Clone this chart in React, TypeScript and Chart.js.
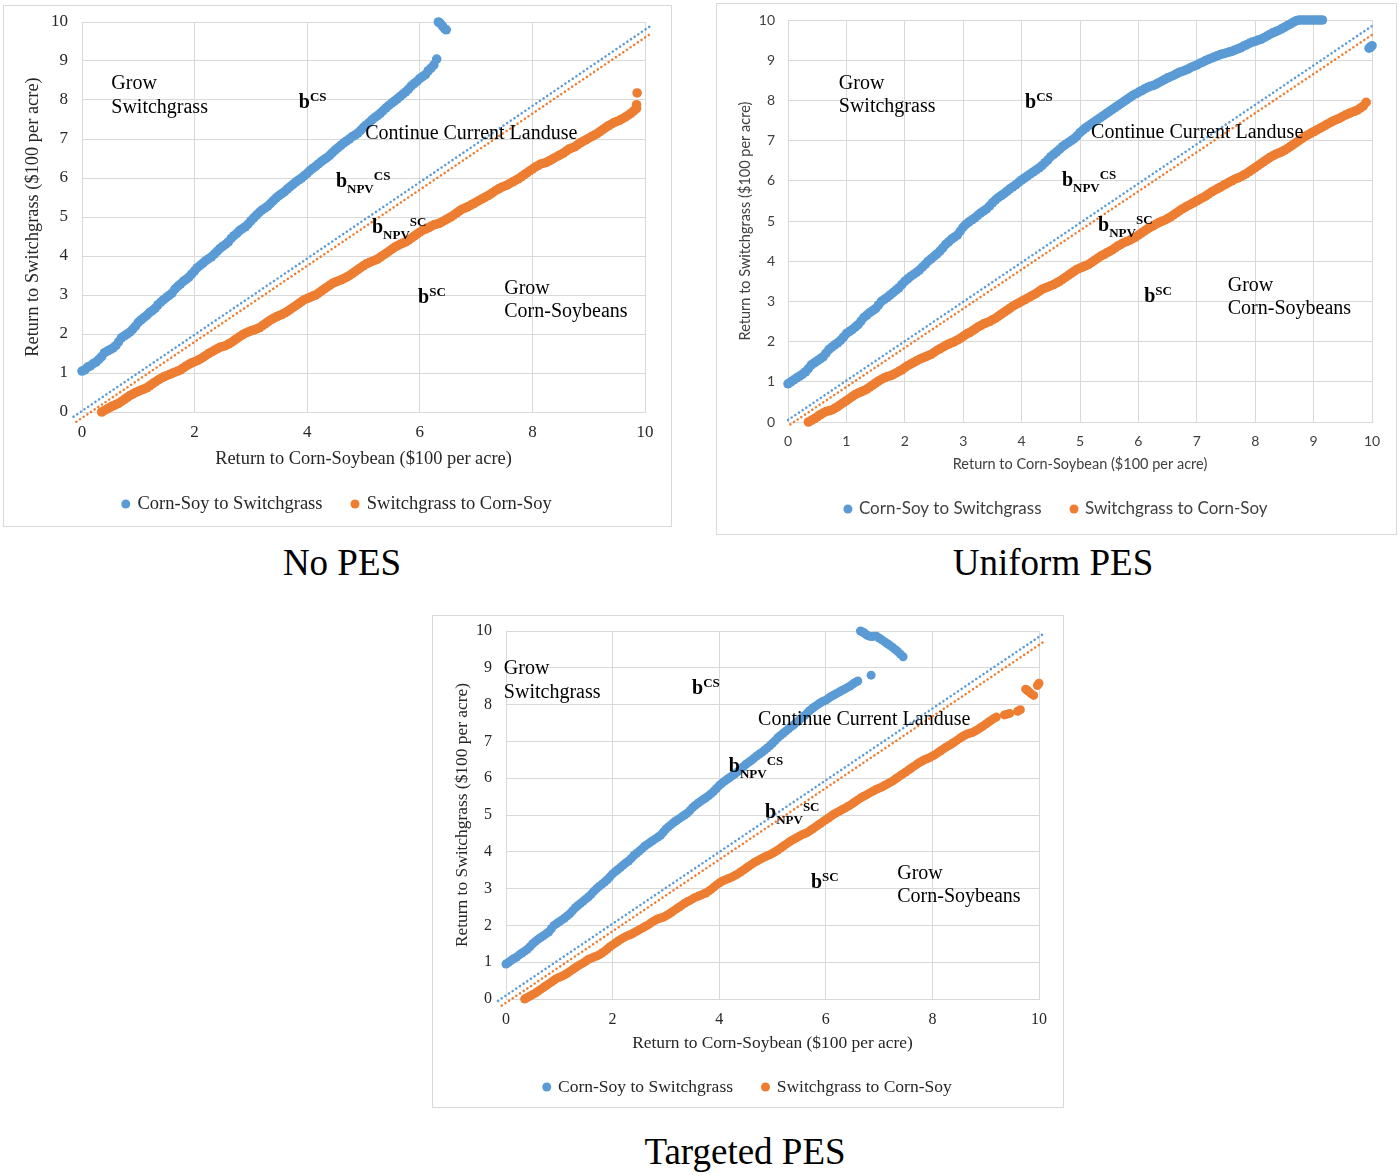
import React, { useEffect, useRef } from "react";
import { Chart, registerables } from "chart.js";

Chart.register(...registerables);

type Pt = [number, number];

// ---------------- text ----------------
const SERIES_NAMES = ["Corn-Soy to Switchgrass", "Switchgrass to Corn-Soy"];
const BOUNDARY_NAMES = ["bNPV CS", "bNPV SC"];
const X_TITLE = "Return to Corn-Soybean ($100 per acre)";
const Y_TITLE = "Return to Switchgrass ($100 per acre)";
const PANEL_TITLES = ["No PES", "Uniform PES", "Targeted PES"];

// ---------------- data: No PES ----------------
const noPesCsToSg: Pt[] = [
  [0, 1.05], [0.05, 1.08], [0.1, 1.15], [0.15, 1.18], [0.2, 1.24], [0.25, 1.28], [0.3, 1.35], [0.35, 1.42],
  [0.4, 1.52], [0.45, 1.56], [0.5, 1.6], [0.55, 1.64], [0.6, 1.7], [0.65, 1.8], [0.7, 1.9], [0.75, 1.95],
  [0.8, 2.0], [0.85, 2.05], [0.9, 2.12], [0.95, 2.2], [1.0, 2.3], [1.05, 2.36], [1.1, 2.42], [1.15, 2.48],
  [1.2, 2.55], [1.25, 2.6], [1.3, 2.66], [1.35, 2.75], [1.4, 2.82], [1.45, 2.88], [1.5, 2.94], [1.55, 2.99],
  [1.6, 3.05], [1.65, 3.15], [1.7, 3.22], [1.75, 3.28], [1.8, 3.35], [1.85, 3.4], [1.9, 3.46], [1.95, 3.54],
  [2.0, 3.62], [2.05, 3.7], [2.1, 3.76], [2.15, 3.82], [2.2, 3.88], [2.25, 3.93], [2.3, 3.98], [2.35, 4.05],
  [2.4, 4.12], [2.45, 4.19], [2.5, 4.25], [2.55, 4.3], [2.6, 4.36], [2.65, 4.45], [2.7, 4.52], [2.75, 4.58],
  [2.8, 4.65], [2.85, 4.7], [2.9, 4.75], [2.95, 4.82], [3.0, 4.9], [3.05, 4.98], [3.1, 5.05], [3.15, 5.12],
  [3.2, 5.18], [3.25, 5.23], [3.3, 5.28], [3.35, 5.35], [3.4, 5.42], [3.45, 5.49], [3.5, 5.55], [3.55, 5.6],
  [3.6, 5.65], [3.65, 5.72], [3.7, 5.78], [3.75, 5.84], [3.8, 5.9], [3.85, 5.95], [3.9, 6.0], [3.95, 6.06],
  [4.0, 6.12], [4.05, 6.19], [4.1, 6.25], [4.15, 6.3], [4.2, 6.36], [4.25, 6.42], [4.3, 6.47], [4.35, 6.52],
  [4.4, 6.58], [4.45, 6.65], [4.5, 6.72], [4.55, 6.78], [4.6, 6.84], [4.65, 6.9], [4.7, 6.95], [4.75, 7.0],
  [4.8, 7.06], [4.85, 7.1], [4.9, 7.15], [4.95, 7.22], [5.0, 7.3], [5.05, 7.36], [5.1, 7.42], [5.15, 7.49],
  [5.2, 7.55], [5.25, 7.6], [5.3, 7.66], [5.35, 7.73], [5.4, 7.8], [5.45, 7.86], [5.5, 7.92], [5.55, 7.97],
  [5.6, 8.03], [5.65, 8.09], [5.7, 8.15], [5.75, 8.21], [5.8, 8.28], [5.85, 8.36], [5.9, 8.42], [5.95, 8.48],
  [6.0, 8.55], [6.05, 8.6], [6.1, 8.65], [6.15, 8.75], [6.2, 8.82], [6.25, 8.9], [6.3, 9.05],
  [6.33, 10.0], [6.36, 9.97], [6.4, 9.9], [6.44, 9.83], [6.47, 9.8],
];
const noPesSgToCs: Pt[] = [
  [0.35, 0], [0.4, 0.04], [0.45, 0.08], [0.5, 0.12], [0.55, 0.16], [0.6, 0.19], [0.65, 0.22], [0.7, 0.27],
  [0.75, 0.32], [0.8, 0.37], [0.85, 0.42], [0.9, 0.46], [0.95, 0.5], [1.0, 0.53], [1.05, 0.56], [1.1, 0.59],
  [1.15, 0.62], [1.2, 0.67], [1.25, 0.72], [1.3, 0.77], [1.35, 0.82], [1.4, 0.86], [1.45, 0.9], [1.5, 0.93],
  [1.55, 0.96], [1.6, 0.99], [1.65, 1.02], [1.7, 1.05], [1.75, 1.08], [1.8, 1.13], [1.85, 1.18], [1.9, 1.22],
  [1.95, 1.26], [2.0, 1.29], [2.05, 1.32], [2.1, 1.36], [2.15, 1.4], [2.2, 1.45], [2.25, 1.5], [2.3, 1.54],
  [2.35, 1.58], [2.4, 1.62], [2.45, 1.66], [2.5, 1.68], [2.55, 1.7], [2.6, 1.74], [2.65, 1.78], [2.7, 1.83],
  [2.75, 1.88], [2.8, 1.93], [2.85, 1.98], [2.9, 2.02], [2.95, 2.05], [3.0, 2.08], [3.05, 2.1], [3.1, 2.13],
  [3.15, 2.16], [3.2, 2.21], [3.25, 2.26], [3.3, 2.31], [3.35, 2.36], [3.4, 2.4], [3.45, 2.44], [3.5, 2.47],
  [3.55, 2.5], [3.6, 2.54], [3.65, 2.58], [3.7, 2.63], [3.75, 2.68], [3.8, 2.73], [3.85, 2.78], [3.9, 2.83],
  [3.95, 2.88], [4.0, 2.91], [4.05, 2.94], [4.1, 2.97], [4.15, 3.0], [4.2, 3.05], [4.25, 3.1], [4.3, 3.15],
  [4.35, 3.2], [4.4, 3.25], [4.45, 3.3], [4.5, 3.33], [4.55, 3.36], [4.6, 3.39], [4.65, 3.42], [4.7, 3.46],
  [4.75, 3.5], [4.8, 3.55], [4.85, 3.6], [4.9, 3.65], [4.95, 3.7], [5.0, 3.75], [5.05, 3.8], [5.1, 3.83],
  [5.15, 3.86], [5.2, 3.89], [5.25, 3.92], [5.3, 3.97], [5.35, 4.02], [5.4, 4.07], [5.45, 4.12], [5.5, 4.17],
  [5.55, 4.22], [5.6, 4.26], [5.65, 4.3], [5.7, 4.33], [5.75, 4.36], [5.8, 4.41], [5.85, 4.46], [5.9, 4.51],
  [5.95, 4.56], [6.0, 4.61], [6.05, 4.66], [6.1, 4.69], [6.15, 4.72], [6.2, 4.76], [6.25, 4.8], [6.3, 4.82],
  [6.35, 4.84], [6.4, 4.88], [6.45, 4.92], [6.5, 4.96], [6.55, 5.0], [6.6, 5.05], [6.65, 5.1], [6.7, 5.15],
  [6.75, 5.2], [6.8, 5.23], [6.85, 5.26], [6.9, 5.3], [6.95, 5.34], [7.0, 5.38], [7.05, 5.42], [7.1, 5.46],
  [7.15, 5.5], [7.2, 5.54], [7.25, 5.58], [7.3, 5.63], [7.35, 5.68], [7.4, 5.72], [7.45, 5.76], [7.5, 5.79],
  [7.55, 5.82], [7.6, 5.86], [7.65, 5.9], [7.7, 5.94], [7.75, 5.98], [7.8, 6.03], [7.85, 6.08], [7.9, 6.13],
  [7.95, 6.18], [8.0, 6.23], [8.05, 6.28], [8.1, 6.32], [8.15, 6.36], [8.2, 6.38], [8.25, 6.4], [8.3, 6.44],
  [8.35, 6.48], [8.4, 6.52], [8.45, 6.56], [8.5, 6.6], [8.55, 6.64], [8.6, 6.69], [8.65, 6.74], [8.7, 6.77],
  [8.75, 6.8], [8.8, 6.85], [8.85, 6.9], [8.9, 6.94], [8.95, 6.98], [9.0, 7.02], [9.05, 7.06], [9.1, 7.1],
  [9.15, 7.14], [9.2, 7.19], [9.25, 7.24], [9.3, 7.29], [9.35, 7.34], [9.4, 7.38], [9.45, 7.42], [9.5, 7.45],
  [9.55, 7.48], [9.6, 7.52], [9.65, 7.56], [9.7, 7.61], [9.75, 7.66], [9.8, 7.72], [9.85, 7.78],
  [9.85, 7.88], [9.86, 8.18],
];
const noPesNpvCs: Pt[] = [[-0.15, -0.12], [10.1, 9.9]];
const noPesNpvSc: Pt[] = [[-0.1, -0.25], [10.1, 9.7]];

// ---------------- data: Uniform PES ----------------
const uniformCsToSg: Pt[] = [
  [0, 0.95], [0.05, 1.0], [0.1, 1.05], [0.15, 1.1], [0.2, 1.14], [0.25, 1.19], [0.3, 1.25], [0.35, 1.33],
  [0.4, 1.42], [0.45, 1.47], [0.5, 1.52], [0.55, 1.57], [0.6, 1.62], [0.65, 1.71], [0.7, 1.8], [0.75, 1.86],
  [0.8, 1.92], [0.85, 1.97], [0.9, 2.03], [0.95, 2.11], [1.0, 2.2], [1.05, 2.25], [1.1, 2.3], [1.15, 2.36],
  [1.2, 2.42], [1.25, 2.51], [1.3, 2.6], [1.35, 2.66], [1.4, 2.72], [1.45, 2.77], [1.5, 2.82], [1.55, 2.91],
  [1.6, 3.0], [1.65, 3.05], [1.7, 3.1], [1.75, 3.16], [1.8, 3.22], [1.85, 3.28], [1.9, 3.34], [1.95, 3.42],
  [2.0, 3.5], [2.05, 3.56], [2.1, 3.62], [2.15, 3.67], [2.2, 3.72], [2.25, 3.78], [2.3, 3.85], [2.35, 3.92],
  [2.4, 4.0], [2.45, 4.06], [2.5, 4.12], [2.55, 4.18], [2.6, 4.25], [2.65, 4.33], [2.7, 4.42], [2.75, 4.48],
  [2.8, 4.55], [2.85, 4.6], [2.9, 4.65], [2.95, 4.75], [3.0, 4.85], [3.05, 4.92], [3.1, 4.98], [3.15, 5.03],
  [3.2, 5.08], [3.25, 5.14], [3.3, 5.2], [3.35, 5.25], [3.4, 5.3], [3.45, 5.37], [3.5, 5.45], [3.55, 5.52],
  [3.6, 5.58], [3.65, 5.63], [3.7, 5.68], [3.75, 5.74], [3.8, 5.8], [3.85, 5.85], [3.9, 5.9], [3.95, 5.96],
  [4.0, 6.02], [4.05, 6.07], [4.1, 6.12], [4.15, 6.17], [4.2, 6.22], [4.25, 6.27], [4.3, 6.32], [4.35, 6.38],
  [4.4, 6.45], [4.45, 6.52], [4.5, 6.6], [4.55, 6.66], [4.6, 6.72], [4.65, 6.78], [4.7, 6.85], [4.75, 6.9],
  [4.8, 6.95], [4.85, 7.0], [4.9, 7.05], [4.95, 7.12], [5.0, 7.2], [5.05, 7.26], [5.1, 7.32], [5.15, 7.37],
  [5.2, 7.42], [5.25, 7.47], [5.3, 7.52], [5.35, 7.57], [5.4, 7.62], [5.45, 7.67], [5.5, 7.72], [5.55, 7.77],
  [5.6, 7.82], [5.65, 7.87], [5.7, 7.92], [5.75, 7.97], [5.8, 8.02], [5.85, 8.07], [5.9, 8.12], [5.95, 8.16],
  [6.0, 8.2], [6.05, 8.24], [6.1, 8.28], [6.15, 8.32], [6.2, 8.35], [6.25, 8.37], [6.3, 8.4], [6.35, 8.44],
  [6.4, 8.48], [6.45, 8.52], [6.5, 8.56], [6.55, 8.59], [6.6, 8.62], [6.65, 8.66], [6.7, 8.7], [6.75, 8.72],
  [6.8, 8.75], [6.85, 8.78], [6.9, 8.82], [6.95, 8.85], [7.0, 8.88], [7.05, 8.92], [7.1, 8.95], [7.15, 8.99],
  [7.2, 9.02], [7.25, 9.05], [7.3, 9.08], [7.35, 9.11], [7.4, 9.14], [7.45, 9.16], [7.5, 9.18], [7.55, 9.2],
  [7.6, 9.22], [7.65, 9.25], [7.7, 9.28], [7.75, 9.31], [7.8, 9.35], [7.85, 9.38], [7.9, 9.42], [7.95, 9.45],
  [8.0, 9.47], [8.05, 9.5], [8.1, 9.52], [8.15, 9.56], [8.2, 9.6], [8.25, 9.64], [8.3, 9.68], [8.35, 9.71],
  [8.4, 9.74], [8.45, 9.78], [8.5, 9.82], [8.55, 9.86], [8.6, 9.9], [8.65, 9.94], [8.7, 9.98], [8.75, 10.0],
  [8.8, 10.0], [8.85, 10.0], [8.9, 10.0], [8.95, 10.0], [9.0, 10.0], [9.05, 10.0], [9.1, 10.0], [9.15, 10.0],
  [9.95, 9.3], [9.98, 9.33], [10.0, 9.36],
];
const uniformSgToCs: Pt[] = [
  [0.35, 0], [0.4, 0.04], [0.45, 0.08], [0.5, 0.13], [0.55, 0.18], [0.6, 0.22], [0.65, 0.26], [0.7, 0.28],
  [0.75, 0.3], [0.8, 0.34], [0.85, 0.38], [0.9, 0.43], [0.95, 0.48], [1.0, 0.53], [1.05, 0.58], [1.1, 0.63],
  [1.15, 0.68], [1.2, 0.72], [1.25, 0.75], [1.3, 0.78], [1.35, 0.82], [1.4, 0.87], [1.45, 0.92], [1.5, 0.97],
  [1.55, 1.02], [1.6, 1.06], [1.65, 1.1], [1.7, 1.13], [1.75, 1.15], [1.8, 1.18], [1.85, 1.22], [1.9, 1.26],
  [1.95, 1.3], [2.0, 1.35], [2.05, 1.4], [2.1, 1.44], [2.15, 1.48], [2.2, 1.52], [2.25, 1.56], [2.3, 1.59],
  [2.35, 1.62], [2.4, 1.65], [2.45, 1.68], [2.5, 1.73], [2.55, 1.78], [2.6, 1.82], [2.65, 1.86], [2.7, 1.9],
  [2.75, 1.94], [2.8, 1.97], [2.85, 2.0], [2.9, 2.04], [2.95, 2.08], [3.0, 2.13], [3.05, 2.18], [3.1, 2.22],
  [3.15, 2.26], [3.2, 2.31], [3.25, 2.36], [3.3, 2.4], [3.35, 2.44], [3.4, 2.47], [3.45, 2.5], [3.5, 2.54],
  [3.55, 2.58], [3.6, 2.63], [3.65, 2.68], [3.7, 2.73], [3.75, 2.78], [3.8, 2.83], [3.85, 2.88], [3.9, 2.92],
  [3.95, 2.96], [4.0, 3.0], [4.05, 3.04], [4.1, 3.08], [4.15, 3.12], [4.2, 3.16], [4.25, 3.2], [4.3, 3.25],
  [4.35, 3.3], [4.4, 3.33], [4.45, 3.36], [4.5, 3.39], [4.55, 3.42], [4.6, 3.46], [4.65, 3.5], [4.7, 3.55],
  [4.75, 3.6], [4.8, 3.65], [4.85, 3.7], [4.9, 3.75], [4.95, 3.8], [5.0, 3.83], [5.05, 3.86], [5.1, 3.89],
  [5.15, 3.92], [5.2, 3.97], [5.25, 4.02], [5.3, 4.07], [5.35, 4.12], [5.4, 4.16], [5.45, 4.2], [5.5, 4.24],
  [5.55, 4.28], [5.6, 4.33], [5.65, 4.38], [5.7, 4.42], [5.75, 4.46], [5.8, 4.49], [5.85, 4.52], [5.9, 4.56],
  [5.95, 4.6], [6.0, 4.65], [6.05, 4.7], [6.1, 4.75], [6.15, 4.8], [6.2, 4.84], [6.25, 4.88], [6.3, 4.92],
  [6.35, 4.96], [6.4, 4.99], [6.45, 5.02], [6.5, 5.06], [6.55, 5.1], [6.6, 5.15], [6.65, 5.2], [6.7, 5.25],
  [6.75, 5.3], [6.8, 5.34], [6.85, 5.38], [6.9, 5.42], [6.95, 5.46], [7.0, 5.5], [7.05, 5.54], [7.1, 5.58],
  [7.15, 5.62], [7.2, 5.67], [7.25, 5.72], [7.3, 5.76], [7.35, 5.8], [7.4, 5.84], [7.45, 5.88], [7.5, 5.92],
  [7.55, 5.96], [7.6, 6.0], [7.65, 6.04], [7.7, 6.07], [7.75, 6.1], [7.8, 6.14], [7.85, 6.18], [7.9, 6.23],
  [7.95, 6.28], [8.0, 6.33], [8.05, 6.38], [8.1, 6.43], [8.15, 6.48], [8.2, 6.53], [8.25, 6.58], [8.3, 6.62],
  [8.35, 6.66], [8.4, 6.69], [8.45, 6.72], [8.5, 6.76], [8.55, 6.8], [8.6, 6.85], [8.65, 6.9], [8.7, 6.95],
  [8.75, 7.0], [8.8, 7.05], [8.85, 7.1], [8.9, 7.14], [8.95, 7.18], [9.0, 7.22], [9.05, 7.26], [9.1, 7.3],
  [9.15, 7.34], [9.2, 7.38], [9.25, 7.42], [9.3, 7.46], [9.35, 7.5], [9.4, 7.53], [9.45, 7.56], [9.5, 7.6],
  [9.55, 7.64], [9.6, 7.67], [9.65, 7.7], [9.7, 7.73], [9.75, 7.76], [9.8, 7.81], [9.85, 7.86], [9.9, 7.95],
];
const uniformNpvCs: Pt[] = [[0, 0.05], [10.05, 9.9]];
const uniformNpvSc: Pt[] = [[0.04, -0.06], [10.05, 9.68]];

// ---------------- data: Targeted PES ----------------
const targetedCsToSg: Pt[] = [
  [0, 0.95], [0.05, 1.0], [0.1, 1.05], [0.15, 1.1], [0.2, 1.14], [0.25, 1.2], [0.3, 1.25], [0.35, 1.3],
  [0.4, 1.35], [0.45, 1.42], [0.5, 1.5], [0.55, 1.56], [0.6, 1.62], [0.65, 1.67], [0.7, 1.72], [0.75, 1.77],
  [0.8, 1.82], [0.85, 1.91], [0.9, 2.0], [0.95, 2.05], [1.0, 2.1], [1.05, 2.15], [1.1, 2.2], [1.15, 2.26],
  [1.2, 2.32], [1.25, 2.4], [1.3, 2.48], [1.35, 2.54], [1.4, 2.6], [1.45, 2.66], [1.5, 2.72], [1.55, 2.78],
  [1.6, 2.85], [1.65, 2.93], [1.7, 3.0], [1.75, 3.06], [1.8, 3.12], [1.85, 3.18], [1.9, 3.24], [1.95, 3.32],
  [2.0, 3.4], [2.05, 3.46], [2.1, 3.52], [2.15, 3.58], [2.2, 3.64], [2.25, 3.7], [2.3, 3.75], [2.35, 3.82],
  [2.4, 3.9], [2.45, 3.96], [2.5, 4.02], [2.55, 4.08], [2.6, 4.15], [2.65, 4.2], [2.7, 4.25], [2.75, 4.3],
  [2.8, 4.35], [2.85, 4.4], [2.9, 4.45], [2.95, 4.53], [3.0, 4.62], [3.05, 4.68], [3.1, 4.74], [3.15, 4.8],
  [3.2, 4.85], [3.25, 4.9], [3.3, 4.95], [3.35, 5.0], [3.4, 5.05], [3.45, 5.12], [3.5, 5.2], [3.55, 5.26],
  [3.6, 5.32], [3.65, 5.37], [3.7, 5.42], [3.75, 5.47], [3.8, 5.52], [3.85, 5.58], [3.9, 5.65], [3.95, 5.72],
  [4.0, 5.8], [4.05, 5.86], [4.1, 5.92], [4.15, 5.97], [4.2, 6.02], [4.25, 6.07], [4.3, 6.12], [4.35, 6.18],
  [4.4, 6.24], [4.45, 6.31], [4.5, 6.38], [4.55, 6.43], [4.6, 6.48], [4.65, 6.54], [4.7, 6.6], [4.75, 6.65],
  [4.8, 6.7], [4.85, 6.76], [4.9, 6.82], [4.95, 6.88], [5.0, 6.95], [5.05, 7.02], [5.1, 7.1], [5.15, 7.16],
  [5.2, 7.22], [5.25, 7.28], [5.3, 7.34], [5.35, 7.4], [5.4, 7.45], [5.45, 7.52], [5.5, 7.58], [5.55, 7.64],
  [5.6, 7.7], [5.65, 7.77], [5.7, 7.84], [5.75, 7.9], [5.8, 7.95], [5.85, 8.0], [5.9, 8.05], [5.95, 8.09],
  [6.0, 8.12], [6.05, 8.17], [6.1, 8.22], [6.15, 8.26], [6.2, 8.3], [6.25, 8.34], [6.3, 8.38], [6.35, 8.42],
  [6.4, 8.46], [6.45, 8.5], [6.5, 8.55], [6.55, 8.6], [6.6, 8.64], [6.85, 8.8],
  [6.65, 10.0], [6.69, 9.97], [6.72, 9.95], [6.75, 9.91], [6.78, 9.88], [6.82, 9.86], [6.86, 9.85],
  [6.9, 9.86], [6.95, 9.86], [7.0, 9.81], [7.05, 9.76], [7.1, 9.71], [7.15, 9.66], [7.2, 9.61], [7.25, 9.56],
  [7.3, 9.5], [7.35, 9.44], [7.4, 9.37], [7.45, 9.3],
];
const targetedSgToCs: Pt[] = [
  [0.35, 0], [0.4, 0.04], [0.45, 0.08], [0.5, 0.12], [0.55, 0.16], [0.6, 0.21], [0.65, 0.26], [0.7, 0.31],
  [0.75, 0.36], [0.8, 0.41], [0.85, 0.46], [0.9, 0.51], [0.95, 0.56], [1.0, 0.59], [1.05, 0.62], [1.1, 0.66],
  [1.15, 0.7], [1.2, 0.75], [1.25, 0.8], [1.3, 0.85], [1.35, 0.9], [1.4, 0.94], [1.45, 0.98], [1.5, 1.03],
  [1.55, 1.08], [1.6, 1.11], [1.65, 1.14], [1.7, 1.17], [1.75, 1.2], [1.8, 1.25], [1.85, 1.3], [1.9, 1.36],
  [1.95, 1.42], [2.0, 1.47], [2.05, 1.52], [2.1, 1.57], [2.15, 1.62], [2.2, 1.66], [2.25, 1.7], [2.3, 1.73],
  [2.35, 1.76], [2.4, 1.8], [2.45, 1.84], [2.5, 1.88], [2.55, 1.92], [2.6, 1.96], [2.65, 2.0], [2.7, 2.05],
  [2.75, 2.1], [2.8, 2.14], [2.85, 2.18], [2.9, 2.2], [2.95, 2.22], [3.0, 2.26], [3.05, 2.3], [3.1, 2.35],
  [3.15, 2.4], [3.2, 2.45], [3.25, 2.5], [3.3, 2.55], [3.35, 2.6], [3.4, 2.64], [3.45, 2.68], [3.5, 2.72],
  [3.55, 2.76], [3.6, 2.79], [3.65, 2.82], [3.7, 2.85], [3.75, 2.88], [3.8, 2.93], [3.85, 2.98], [3.9, 3.04],
  [3.95, 3.1], [4.0, 3.15], [4.05, 3.2], [4.1, 3.23], [4.15, 3.26], [4.2, 3.29], [4.25, 3.32], [4.3, 3.36],
  [4.35, 3.4], [4.4, 3.45], [4.45, 3.5], [4.5, 3.55], [4.55, 3.6], [4.6, 3.65], [4.65, 3.7], [4.7, 3.74],
  [4.75, 3.78], [4.8, 3.82], [4.85, 3.86], [4.9, 3.89], [4.95, 3.92], [5.0, 3.96], [5.05, 4.0], [5.1, 4.05],
  [5.15, 4.1], [5.2, 4.15], [5.25, 4.2], [5.3, 4.25], [5.35, 4.3], [5.4, 4.34], [5.45, 4.38], [5.5, 4.42],
  [5.55, 4.46], [5.6, 4.49], [5.65, 4.52], [5.7, 4.57], [5.75, 4.62], [5.8, 4.67], [5.85, 4.72], [5.9, 4.77],
  [5.95, 4.82], [6.0, 4.87], [6.05, 4.92], [6.1, 4.97], [6.15, 5.02], [6.2, 5.06], [6.25, 5.1], [6.3, 5.14],
  [6.35, 5.18], [6.4, 5.22], [6.45, 5.26], [6.5, 5.31], [6.55, 5.36], [6.6, 5.41], [6.65, 5.46], [6.7, 5.5],
  [6.75, 5.54], [6.8, 5.58], [6.85, 5.62], [6.9, 5.66], [6.95, 5.7], [7.0, 5.73], [7.05, 5.76], [7.1, 5.8],
  [7.15, 5.84], [7.2, 5.88], [7.25, 5.92], [7.3, 5.97], [7.35, 6.02], [7.4, 6.07], [7.45, 6.12], [7.5, 6.17],
  [7.55, 6.22], [7.6, 6.27], [7.65, 6.32], [7.7, 6.37], [7.75, 6.42], [7.8, 6.46], [7.85, 6.5], [7.9, 6.53],
  [7.95, 6.56], [8.0, 6.6], [8.05, 6.64], [8.1, 6.69], [8.15, 6.74], [8.2, 6.79], [8.25, 6.84], [8.3, 6.88],
  [8.35, 6.92], [8.4, 6.97], [8.45, 7.02], [8.5, 7.07], [8.55, 7.12], [8.6, 7.16], [8.65, 7.2], [8.7, 7.22],
  [8.75, 7.24], [8.8, 7.28], [8.85, 7.32], [8.9, 7.37], [8.95, 7.42], [9.0, 7.47], [9.05, 7.52], [9.1, 7.57],
  [9.15, 7.62], [9.2, 7.66], [9.35, 7.72], [9.4, 7.74], [9.45, 7.76], [9.6, 7.82], [9.65, 7.86],
  [9.75, 8.42], [9.78, 8.39], [9.8, 8.36], [9.85, 8.3], [9.9, 8.25], [9.97, 8.52], [10.0, 8.58],
];
const targetedNpvCs: Pt[] = [[-0.15, -0.05], [10.08, 9.92]];
const targetedNpvSc: Pt[] = [[-0.08, -0.18], [10.08, 9.7]];

// ---------------- region labels (data coordinates) ----------------
type Label = { text: string; sub?: string; sup?: string; x: number; y: number };

const noPesLabels: Label[] = [
  { text: "Grow", x: 0.52, y: 8.41 },
  { text: "Switchgrass", x: 0.52, y: 7.79 },
  { text: "b", sup: "CS", x: 3.85, y: 7.97 },
  { text: "Continue Current Landuse", x: 5.03, y: 7.13 },
  { text: "b", sub: "NPV", sup: "CS", x: 4.51, y: 5.95 },
  { text: "b", sub: "NPV", sup: "SC", x: 5.15, y: 4.77 },
  { text: "b", sup: "SC", x: 5.97, y: 2.97 },
  { text: "Grow", x: 7.5, y: 3.15 },
  { text: "Corn-Soybeans", x: 7.5, y: 2.56 },
];
const uniformLabels: Label[] = [
  { text: "Grow", x: 0.87, y: 8.41 },
  { text: "Switchgrass", x: 0.87, y: 7.84 },
  { text: "b", sup: "CS", x: 4.06, y: 7.99 },
  { text: "Continue Current Landuse", x: 5.19, y: 7.19 },
  { text: "b", sub: "NPV", sup: "CS", x: 4.69, y: 6.04 },
  { text: "b", sub: "NPV", sup: "SC", x: 5.31, y: 4.93 },
  { text: "b", sup: "SC", x: 6.1, y: 3.16 },
  { text: "Grow", x: 7.53, y: 3.38 },
  { text: "Corn-Soybeans", x: 7.53, y: 2.81 },
];
const targetedLabels: Label[] = [
  { text: "Grow", x: -0.04, y: 8.97 },
  { text: "Switchgrass", x: -0.04, y: 8.32 },
  { text: "b", sup: "CS", x: 3.49, y: 8.48 },
  { text: "Continue Current Landuse", x: 4.73, y: 7.58 },
  { text: "b", sub: "NPV", sup: "CS", x: 4.18, y: 6.36 },
  { text: "b", sub: "NPV", sup: "SC", x: 4.86, y: 5.11 },
  { text: "b", sup: "SC", x: 5.72, y: 3.21 },
  { text: "Grow", x: 7.34, y: 3.4 },
  { text: "Corn-Soybeans", x: 7.34, y: 2.77 },
];

// ---------------- styling ----------------
const BLUE = "#5B9BD5";
const ORANGE = "#ED7D31";
const GRID = "#d9d9d9";
const SERIF = '"Liberation Serif", "Times New Roman", serif';
const SANS = 'Lato, "Liberation Sans", sans-serif';

type PanelSpec = {
  left: number; top: number; width: number; height: number;
  series: [Pt[], Pt[]]; npv: [Pt[], Pt[]]; labels: Label[];
  xStep: number; family: string; textColor: string;
  tickSize: number; titleSize: number; legendSize: number;
  plotLeft: number; plotTop: number; plotRightPad: number; plotBottom: number;
  legendCenterY: number; xTitleY: number; yTitleX: number; xTickY: number; yTickPad: number;
  pointRadius: number;
};

const panels: PanelSpec[] = [
  {
    left: 3, top: 5, width: 669, height: 522,
    series: [noPesCsToSg, noPesSgToCs], npv: [noPesNpvCs, noPesNpvSc], labels: noPesLabels,
    xStep: 2, family: SERIF, textColor: "#262626",
    tickSize: 17, titleSize: 18.4, legendSize: 18.5,
    plotLeft: 78, plotTop: 16, plotRightPad: 26, plotBottom: 406,
    legendCenterY: 498, xTitleY: 453, yTitleX: 29, xTickY: 427, yTickPad: 14,
    pointRadius: 4.8,
  },
  {
    left: 716, top: 3, width: 681, height: 532,
    series: [uniformCsToSg, uniformSgToCs], npv: [uniformNpvCs, uniformNpvSc], labels: uniformLabels,
    xStep: 1, family: SANS, textColor: "#404040",
    tickSize: 14, titleSize: 14.5, legendSize: 17,
    plotLeft: 71, plotTop: 16, plotRightPad: 24, plotBottom: 418,
    legendCenterY: 505, xTitleY: 460, yTitleX: 28, xTickY: 437, yTickPad: 13,
    pointRadius: 4.8,
  },
  {
    left: 432, top: 615, width: 632, height: 493,
    series: [targetedCsToSg, targetedSgToCs], npv: [targetedNpvCs, targetedNpvSc], labels: targetedLabels,
    xStep: 2, family: SERIF, textColor: "#262626",
    tickSize: 16, titleSize: 17.4, legendSize: 17.5,
    plotLeft: 73, plotTop: 15, plotRightPad: 24, plotBottom: 383,
    legendCenterY: 471, xTitleY: 427, yTitleX: 29, xTickY: 404, yTickPad: 14,
    pointRadius: 4.5,
  },
];

const panelTitlePos = [
  { cx: 342, cy: 563 },
  { cx: 1053, cy: 563 },
  { cx: 745, cy: 1152 },
];

const LEGEND_ITEM_PAD = 30;

const legendFullWidth = {
  id: "legendFullWidth",
  afterLayout(chart: any) {
    const lg = chart.legend;
    if (lg) {
      lg.left = 0;
      lg.right = chart.width;
      lg.width = chart.width;
    }
  },
};

function makeLabelPlugin(labels: Label[]) {
  return {
    id: "regionLabels",
    afterDatasetsDraw(chart: any) {
      const { ctx } = chart;
      const xs = chart.scales.x;
      const ys = chart.scales.y;
      ctx.save();
      ctx.fillStyle = "#000";
      ctx.textAlign = "left";
      for (const l of labels) {
        const px = xs.getPixelForValue(l.x);
        const py = ys.getPixelForValue(l.y);
        if (!l.sub && !l.sup) {
          ctx.textBaseline = "middle";
          ctx.font = `20px ${SERIF}`;
          ctx.fillText(l.text, px, py);
          continue;
        }
        ctx.textBaseline = "alphabetic";
        ctx.font = `bold 20px ${SERIF}`;
        const base = py + 6.7;
        ctx.fillText(l.text, px, base);
        let cx = px + ctx.measureText(l.text).width;
        ctx.font = `bold 13px ${SERIF}`;
        if (l.sub) {
          ctx.fillText(l.sub, cx, base + 6);
          cx += ctx.measureText(l.sub).width;
        }
        if (l.sup) ctx.fillText(l.sup, cx, base - 7);
      }
      ctx.restore();
    },
  };
}

function Panel({ spec }: { spec: PanelSpec }) {
  const ref = useRef<HTMLCanvasElement>(null);
  const W = spec.width - 2;
  const H = spec.height - 2;

  useEffect(() => {
    if (!ref.current) return;
    const legendPad = H - spec.legendCenterY - 10 - spec.legendSize / 2;
    const legendTop = H - legendPad - spec.legendSize - LEGEND_ITEM_PAD - 10;
    const xAxisH = legendTop - spec.plotBottom;
    const titleLH = spec.titleSize * 1.2;
    const xTitlePadBottom = legendTop - spec.xTitleY - titleLH / 2;
    const yTitlePadTop = spec.yTitleX - titleLH / 2;
    const xTickPad = spec.xTickY - spec.plotBottom - (spec.tickSize * 1.2) / 2;
    const toXY = (arr: Pt[]) => arr.map(([x, y]) => ({ x, y }));
    const colors = [BLUE, ORANGE];

    const pointSets = spec.series.map((s, i) => ({
      label: SERIES_NAMES[i],
      data: toXY(s),
      backgroundColor: colors[i],
      borderColor: colors[i],
      borderWidth: 0,
      pointRadius: spec.pointRadius,
      pointHoverRadius: spec.pointRadius,
      pointBorderWidth: 0,
      pointStyle: "circle",
      clip: false,
    }));
    const lineSets = spec.npv.map((s, i) => ({
      label: BOUNDARY_NAMES[i],
      data: toXY(s),
      showLine: true,
      borderColor: colors[i],
      backgroundColor: colors[i],
      borderWidth: 2.5,
      borderDash: [0.1, 4.3],
      borderCapStyle: "round",
      pointRadius: 0,
      fill: false,
      clip: false,
    }));

    const tickFont = { family: spec.family, size: spec.tickSize };
    const titleFont = { family: spec.family, size: spec.titleSize, lineHeight: 1.2 };

    const chart = new Chart(ref.current, {
      type: "scatter",
      data: { datasets: [...pointSets, ...lineSets] as any },
      options: {
        responsive: false,
        animation: false,
        events: [],
        layout: { padding: { top: spec.plotTop, right: spec.plotRightPad, bottom: legendPad, left: 0 } },
        scales: {
          x: {
            type: "linear",
            min: 0,
            max: 10,
            ticks: { stepSize: spec.xStep, padding: xTickPad, color: spec.textColor, font: tickFont, maxRotation: 0, autoSkip: false },
            grid: { color: GRID, lineWidth: 1, drawTicks: false },
            border: { color: GRID },
            title: { display: true, text: X_TITLE, color: spec.textColor, font: titleFont, padding: { top: 0, bottom: xTitlePadBottom } },
            afterFit: (s: any) => {
              s.height = xAxisH;
              s.paddingLeft = 0;
              s.paddingRight = 0;
            },
          },
          y: {
            type: "linear",
            min: 0,
            max: 10,
            ticks: { stepSize: 1, padding: spec.yTickPad, color: spec.textColor, font: tickFont },
            grid: { color: GRID, lineWidth: 1, drawTicks: false },
            border: { color: GRID },
            title: { display: true, text: Y_TITLE, color: spec.textColor, font: titleFont, padding: { top: yTitlePadTop, bottom: 0 } },
            afterFit: (s: any) => {
              s.width = spec.plotLeft;
              s.paddingTop = 0;
              s.paddingBottom = 0;
            },
          },
        },
        plugins: {
          legend: {
            position: "bottom",
            labels: {
              usePointStyle: true,
              pointStyle: "circle",
              boxWidth: 5,
              boxHeight: 6.4,
              padding: LEGEND_ITEM_PAD,
              color: spec.textColor,
              font: { family: spec.family, size: spec.legendSize },
              filter: (item: any) => item.datasetIndex < 2,
            },
          },
          tooltip: { enabled: false },
        },
      } as any,
      plugins: [legendFullWidth, makeLabelPlugin(spec.labels)],
    });
    return () => chart.destroy();
  }, [spec]);

  return (
    <div
      style={{
        position: "absolute",
        left: spec.left,
        top: spec.top,
        width: W,
        height: H,
        border: `1px solid ${GRID}`,
        background: "#fff",
      }}
    >
      <canvas ref={ref} width={W} height={H} style={{ display: "block", width: W, height: H }} />
    </div>
  );
}

export default function App() {
  return (
    <div style={{ position: "absolute", left: 0, top: 0, width: 1400, height: 1176, background: "#fff", overflow: "hidden" }}>
      {panels.map((p, i) => (
        <Panel key={i} spec={p} />
      ))}
      {PANEL_TITLES.map((t, i) => (
        <div
          key={t}
          style={{
            position: "absolute",
            left: panelTitlePos[i].cx - 200,
            top: panelTitlePos[i].cy - 20,
            width: 400,
            height: 40,
            lineHeight: "40px",
            textAlign: "center",
            fontFamily: SERIF,
            fontSize: 37,
            color: "#000",
            whiteSpace: "nowrap",
          }}
        >
          {t}
        </div>
      ))}
    </div>
  );
}
